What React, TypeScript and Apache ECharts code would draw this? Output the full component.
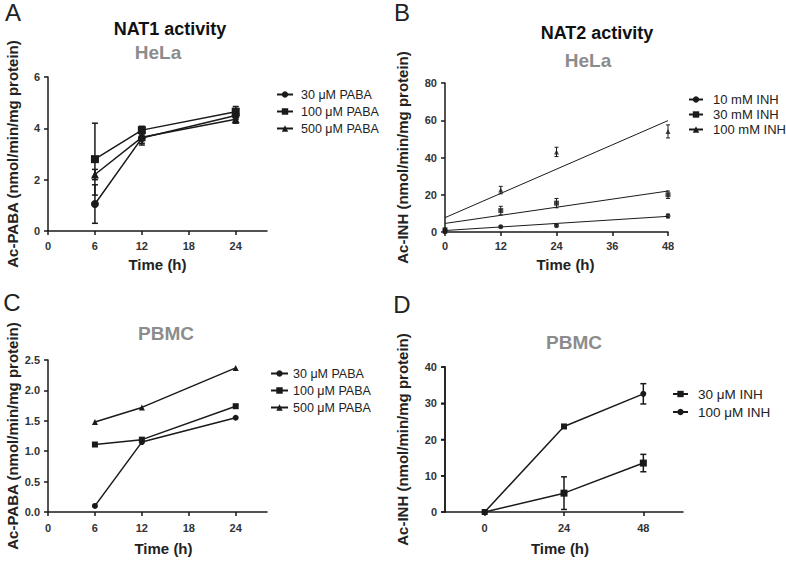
import React, { useEffect, useRef } from "react";
import * as echarts from "echarts";

const FONT = "Liberation Sans, Arial, sans-serif";
const INK = "#1a1a1a";

// Panel A: NAT1 activity, HeLa
const timeA = [6, 12, 24];
const a30 = [1.05, 3.62, 4.5];
const a30sd = [0.75, 0.2, 0.15];
const a100 = [2.8, 3.93, 4.65];
const a100sd = [1.4, 0.15, 0.2];
const a500 = [2.2, 3.65, 4.35];
const a500sd = [0.2, 0.3, 0.15];
const namesPABA = ["30 μM PABA", "100 μM PABA", "500 μM PABA"];

// Panel B: NAT2 activity, HeLa
const timeB = [0, 12, 24, 48];
const b10 = [0.8, 2.8, 3.4, 8.6];
const b10sd = [0.3, 0.5, 0.6, 1.0];
const b30 = [1.2, 11.5, 15.5, 20];
const b30sd = [0.5, 2.3, 2.5, 2.0];
const b100 = [0.3, 22.5, 43, 54];
const b100sd = [0.3, 2.0, 2.5, 3.5];
const fitX = [0, 48];
const fit10 = [0.8, 8.4];
const fit30 = [4.6, 22];
const fit100 = [7.7, 59.8];
const namesINHb = ["10 mM INH", "30 mM INH", "100 mM INH"];

// Panel C: PBMC PABA
const timeC = [6, 12, 24];
const c30 = [0.1, 1.15, 1.55];
const c100 = [1.11, 1.19, 1.74];
const c500 = [1.48, 1.72, 2.37];

// Panel D: PBMC INH
const timeD = [0, 24, 48];
const dUpper = [0, 23.6, 32.6];
const dUpperSd = [0, 0.3, 2.8];
const dLower = [0, 5.2, 13.5];
const dLowerSd = [0, 4.5, 2.4];
const namesINHd = ["30 μM INH", "100 μM INH"];
const xRangeD = [-12, 60];
const yRangeD = [0, 40];
const yTicksD = [0, 10, 20, 30, 40];

const ticksAC = [0, 6, 12, 18, 24];
const ticksD = [0, 24, 48];

const pairs = (xs: number[], ys: number[]) => xs.map((x, i) => [x, ys[i]]);
const errs = (xs: number[], ys: number[], sd: number[]) =>
  xs.map((x, i) => [x, ys[i] - sd[i], ys[i] + sd[i]]);

const errRender = (capW: number, lw: number) => (_p: any, api: any) => {
  const x = api.value(0);
  const lo = api.value(1);
  const hi = api.value(2);
  const p1 = api.coord([x, lo]);
  const p2 = api.coord([x, hi]);
  const style = { stroke: INK, lineWidth: lw };
  return {
    type: "group",
    children: [
      { type: "line", shape: { x1: p1[0], y1: p1[1], x2: p2[0], y2: p2[1] }, style },
      { type: "line", shape: { x1: p1[0] - capW, y1: p1[1], x2: p1[0] + capW, y2: p1[1] }, style },
      { type: "line", shape: { x1: p2[0] - capW, y1: p2[1], x2: p2[0] + capW, y2: p2[1] }, style },
    ],
  };
};

// Left axis line + outward ticks for panel D, placed through the chart's scales
const axisDRender = (_p: any, api: any) => {
  const x = api.value(0);
  const lo = api.coord([x, api.value(1)]);
  const hi = api.coord([x, api.value(2)]);
  const style = { stroke: INK, lineWidth: 1.5 };
  const children: any[] = [
    { type: "line", shape: { x1: lo[0], y1: lo[1] + 0.75, x2: hi[0], y2: hi[1] - 0.75 }, style },
  ];
  yTicksD.forEach((v) => {
    const p = api.coord([x, v]);
    children.push({ type: "line", shape: { x1: p[0] - 4, y1: p[1], x2: p[0], y2: p[1] }, style });
  });
  return { type: "group", children };
};

const nameStyle = { color: "#222", fontWeight: "bold", fontSize: 15, fontFamily: FONT };

const axisCommon = {
  axisLine: { show: true, onZero: false, lineStyle: { color: INK, width: 1.5 } },
  axisTick: { show: true, length: 4, lineStyle: { color: INK, width: 1.5 } },
  axisLabel: { color: "#333", fontWeight: "bold", fontSize: 11, fontFamily: FONT },
  splitLine: { show: false },
  nameTextStyle: nameStyle,
  nameLocation: "middle",
};

const lineSeries = (
  name: string,
  xi: number,
  data: any[],
  symbol: string,
  size: number,
  width: number
) => ({
  type: "line",
  name,
  xAxisIndex: xi,
  yAxisIndex: xi,
  data,
  symbol,
  symbolSize: size,
  lineStyle: { color: INK, width },
  itemStyle: { color: INK },
  color: INK,
  z: 3,
});

const errSeries = (name: string, xi: number, data: any[], cap: number, lw: number) => ({
  type: "custom",
  name,
  xAxisIndex: xi,
  yAxisIndex: xi,
  data,
  renderItem: errRender(cap, lw),
  encode: { x: 0, y: [1, 2] },
  z: 2,
});

const text = (t: string, x: number, y: number, font: string, fill: string, align = "center") => ({
  type: "text",
  x,
  y,
  style: { text: t, font, fill, textAlign: align, textVerticalAlign: "middle" },
});

export default function App() {
  const ref = useRef<HTMLDivElement>(null);
  useEffect(() => {
    if (!ref.current) return;
    const chart = echarts.init(ref.current, undefined, { renderer: "svg" });
    const legendBase = {
      orient: "vertical",
      itemWidth: 16,
      itemHeight: 8,
      itemGap: 4,
      textStyle: { color: "#222", fontSize: 12.5, fontFamily: FONT, padding: [0, 0, 0, 3] },
      selectedMode: false,
    };
    const option: any = {
      animation: false,
      backgroundColor: "#fff",
      grid: [
        { left: 48, top: 77, width: 219, height: 154 },
        { left: 445, top: 83, width: 223, height: 149 },
        { left: 48, top: 360, width: 219, height: 152 },
        { left: 445, top: 367, width: 238, height: 145 },
      ],
      xAxis: [
        {
          ...axisCommon, type: "value", gridIndex: 0, min: 0, max: 28, interval: 6,
          name: "Time (h)", nameGap: 26,
          axisLabel: { ...axisCommon.axisLabel, customValues: ticksAC, margin: 9 },
          axisTick: { ...axisCommon.axisTick, customValues: ticksAC },
        },
        {
          ...axisCommon, type: "value", gridIndex: 1, min: 0, max: 48, interval: 12,
          name: "Time (h)", nameGap: 25,
          nameTextStyle: { ...nameStyle, padding: [0, 0, 0, 18] },
          axisLabel: { ...axisCommon.axisLabel, margin: 8 },
        },
        {
          ...axisCommon, type: "value", gridIndex: 2, min: 0, max: 28, interval: 6,
          name: "Time (h)", nameGap: 29,
          nameTextStyle: { ...nameStyle, padding: [0, 0, 0, 12] },
          axisLabel: { ...axisCommon.axisLabel, customValues: ticksAC, margin: 10 },
          axisTick: { ...axisCommon.axisTick, customValues: ticksAC },
        },
        {
          ...axisCommon, type: "value", gridIndex: 3, min: xRangeD[0], max: xRangeD[1], interval: 12,
          name: "Time (h)", nameGap: 29,
          nameTextStyle: { ...nameStyle, padding: [0, 8, 0, 0] },
          axisLabel: { ...axisCommon.axisLabel, customValues: ticksD, margin: 10 },
          axisTick: { ...axisCommon.axisTick, customValues: ticksD },
        },
      ],
      yAxis: [
        {
          ...axisCommon, type: "value", gridIndex: 0, min: 0, max: 6, interval: 2,
          name: "Ac-PABA (nmol/min/mg protein)", nameGap: 28,
        },
        {
          ...axisCommon, type: "value", gridIndex: 1, min: 0, max: 80, interval: 20,
          name: "Ac-INH (nmol/min/mg protein)", nameGap: 35,
        },
        {
          ...axisCommon, type: "value", gridIndex: 2, min: 0, max: 2.5, interval: 0.5,
          name: "Ac-PABA (nmol/min/mg protein)", nameGap: 28,
          axisLabel: { ...axisCommon.axisLabel, formatter: (v: number) => v.toFixed(1) },
        },
        {
          ...axisCommon, type: "value", gridIndex: 3, min: yRangeD[0], max: yRangeD[1], interval: 10,
          name: "Ac-INH (nmol/min/mg protein)", nameGap: 35,
        },
      ],
      legend: [
        { ...legendBase, left: 271, top: 83, data: namesPABA },
        {
          ...legendBase, left: 683, top: 88, data: namesINHb, itemGap: 2, itemWidth: 14,
          textStyle: { ...legendBase.textStyle, fontSize: 13, padding: [0, 0, 0, 5] },
        },
        {
          ...legendBase, left: 265, top: 362, data: namesPABA, itemWidth: 17,
          textStyle: { ...legendBase.textStyle, padding: [0, 0, 0, 0] },
        },
        {
          ...legendBase, left: 667, top: 382, data: namesINHd, itemGap: 4, itemWidth: 15,
          textStyle: { ...legendBase.textStyle, fontSize: 13.5, padding: [0, 0, 0, 5] },
        },
      ],
      series: [
        // A
        lineSeries(namesPABA[0], 0, pairs(timeA, a30), "circle", 8, 1.5),
        lineSeries(namesPABA[1], 0, pairs(timeA, a100), "rect", 8, 1.5),
        lineSeries(namesPABA[2], 0, pairs(timeA, a500), "triangle", 8, 1.5),
        errSeries("errA30", 0, errs(timeA, a30, a30sd), 3, 1.5),
        errSeries("errA100", 0, errs(timeA, a100, a100sd), 3, 1.5),
        errSeries("errA500", 0, errs(timeA, a500, a500sd), 3, 1.5),
        // B regression lines
        { ...lineSeries(namesINHb[0], 1, pairs(fitX, fit10), "circle", 5, 1), showSymbol: false },
        { ...lineSeries(namesINHb[1], 1, pairs(fitX, fit30), "rect", 5, 1), showSymbol: false },
        { ...lineSeries(namesINHb[2], 1, pairs(fitX, fit100), "triangle", 5, 1), showSymbol: false },
        {
          type: "scatter", name: "ptsB10", xAxisIndex: 1, yAxisIndex: 1,
          data: pairs(timeB, b10), symbol: "circle", symbolSize: 5, itemStyle: { color: INK }, z: 4,
        },
        {
          type: "scatter", name: "ptsB30", xAxisIndex: 1, yAxisIndex: 1,
          data: pairs(timeB, b30), symbol: "rect", symbolSize: 5, itemStyle: { color: INK }, z: 4,
        },
        {
          type: "scatter", name: "ptsB100", xAxisIndex: 1, yAxisIndex: 1,
          data: pairs(timeB, b100), symbol: "triangle", symbolSize: 5, itemStyle: { color: INK }, z: 4,
        },
        errSeries("errB10", 1, errs(timeB, b10, b10sd), 2, 1),
        errSeries("errB30", 1, errs(timeB, b30, b30sd), 2, 1),
        errSeries("errB100", 1, errs(timeB, b100, b100sd), 2, 1),
        // C
        lineSeries(namesPABA[0], 2, pairs(timeC, c30), "circle", 6, 1.5),
        lineSeries(namesPABA[1], 2, pairs(timeC, c100), "rect", 6, 1.5),
        lineSeries(namesPABA[2], 2, pairs(timeC, c500), "triangle", 6, 1.5),
        // D
        {
          ...lineSeries(namesINHd[0], 3, pairs(timeD, dUpper), "rect", 6, 1.5),
          data: pairs(timeD, dUpper).map((p, i) => (i === 2 ? { value: p, symbol: "circle" } : p)),
        },
        {
          ...lineSeries(namesINHd[1], 3, pairs(timeD, dLower), "circle", 6, 1.5),
          data: pairs(timeD, dLower).map((p, i) => (i > 0 ? { value: p, symbol: "rect", symbolSize: 7 } : p)),
        },
        errSeries("errDup", 3, errs(timeD, dUpper, dUpperSd).slice(2), 3, 1.5),
        errSeries("errDlo", 3, errs(timeD, dLower, dLowerSd).slice(1), 3, 1.5),
        {
          type: "custom",
          name: "axisD",
          xAxisIndex: 3,
          yAxisIndex: 3,
          clip: false,
          silent: true,
          z: 10,
          data: [[xRangeD[0], yRangeD[0], yRangeD[1]]],
          encode: { x: 0, y: [1, 2] },
          renderItem: axisDRender,
        },
      ],
      graphic: [
        text("A", 13, 12, `24px ${FONT}`, "#222"),
        text("B", 402, 12, `24px ${FONT}`, "#222"),
        text("C", 12, 302, `24px ${FONT}`, "#222"),
        text("D", 402, 304, `24px ${FONT}`, "#222"),
        text("NAT1 activity", 170, 29, `bold 18px ${FONT}`, "#111"),
        text("HeLa", 158, 52, `bold 19px ${FONT}`, "#8c8c8c"),
        text("NAT2 activity", 597, 33, `bold 18px ${FONT}`, "#111"),
        text("HeLa", 588, 60, `bold 19px ${FONT}`, "#8c8c8c"),
        text("PBMC", 166, 333, `bold 19px ${FONT}`, "#8c8c8c"),
        text("PBMC", 574, 342, `bold 19px ${FONT}`, "#8c8c8c"),
      ],
    };
    chart.setOption(option);
    return () => chart.dispose();
  }, []);
  return (
    <div
      ref={ref}
      style={{ position: "fixed", left: 0, top: 0, width: 786, height: 562, background: "#fff" }}
    />
  );
}
